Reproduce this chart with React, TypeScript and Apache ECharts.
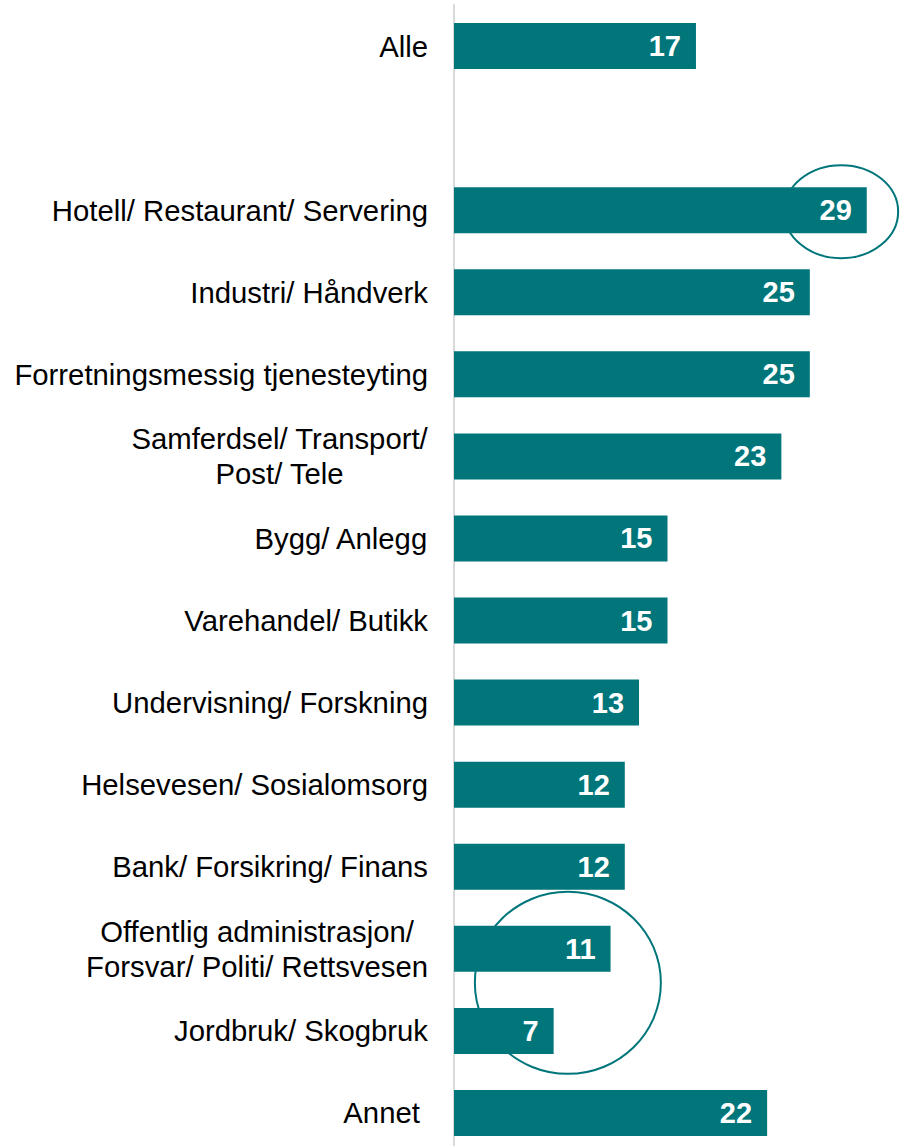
import { useEffect, useRef } from "react";
import * as echarts from "echarts";

const categories = [
  "Alle",
  "",
  "Hotell/ Restaurant/ Servering",
  "Industri/ Håndverk",
  "Forretningsmessig tjenesteyting",
  "Samferdsel/ Transport/\nPost/ Tele",
  "Bygg/ Anlegg",
  "Varehandel/ Butikk",
  "Undervisning/ Forskning",
  "Helsevesen/ Sosialomsorg",
  "Bank/ Forsikring/ Finans",
  "Offentlig administrasjon/\nForsvar/ Politi/ Rettsvesen",
  "Jordbruk/ Skogbruk",
  "Annet ",
];

const values: (number | null)[] = [17, null, 29, 25, 25, 23, 15, 15, 13, 12, 12, 11, 7, 22];

// Highlight ellipses: centered on value x, between the rows "from" and "to"
const highlights = [
  { from: 2, to: 2, x: 27.2, dy: 1.5, rx: 57, ry: 46.5 },
  { from: 11, to: 12, x: 8.0, dy: -7, rx: 93, ry: 91 },
];

const TEAL = "#00767B";
const FONT = "'Liberation Sans', Arial, sans-serif";

export default function App() {
  const ref = useRef<HTMLDivElement>(null);

  useEffect(() => {
    if (!ref.current) return;
    const chart = echarts.init(ref.current, undefined, { renderer: "svg" });
    chart.setOption({
      animation: false,
      grid: { left: 454, right: 19, top: 5, height: 1149, containLabel: false },
      xAxis: {
        type: "value",
        min: 0,
        max: 30,
        show: false,
        splitLine: { show: false },
      },
      yAxis: {
        type: "category",
        inverse: true,
        data: categories,
        axisTick: { show: false },
        axisLine: { show: true, lineStyle: { color: "#d9d9d9", width: 2 } },
        axisLabel: {
          margin: 26,
          formatter: (v: string) =>
            v
              .split("\n")
              .map((l) => (l ? `{c|${l}}` : ""))
              .join("\n"),
          rich: {
            c: {
              fontFamily: FONT,
              fontSize: 29.3,
              color: "#000",
              align: "center",
              lineHeight: 35,
            },
          },
        },
      },
      series: [
        {
          type: "bar",
          data: values,
          barWidth: 46,
          z: 10,
          itemStyle: { color: TEAL },
          label: {
            show: true,
            position: "insideRight",
            distance: 15,
            color: "#fff",
            fontWeight: "bold",
            fontSize: 29,
            fontFamily: FONT,
          },
        },
      ],
    });

    const graphics = highlights.map((h) => {
      const p1 = chart.convertToPixel({ gridIndex: 0 }, [h.x, h.from]) as number[];
      const p2 = chart.convertToPixel({ gridIndex: 0 }, [h.x, h.to]) as number[];
      return {
        type: "ellipse",
        silent: true,
        z: 0,
        shape: { cx: p1[0], cy: (p1[1] + p2[1]) / 2 + h.dy, rx: h.rx, ry: h.ry },
        style: { fill: "none", stroke: TEAL, lineWidth: 2 },
      };
    });
    chart.setOption({ graphic: graphics });

    return () => chart.dispose();
  }, []);

  return (
    <div
      style={{
        position: "absolute",
        left: 0,
        top: 0,
        width: 900,
        height: 1146,
        overflow: "hidden",
      }}
    >
      <div ref={ref} style={{ width: 900, height: 1160 }} />
    </div>
  );
}
